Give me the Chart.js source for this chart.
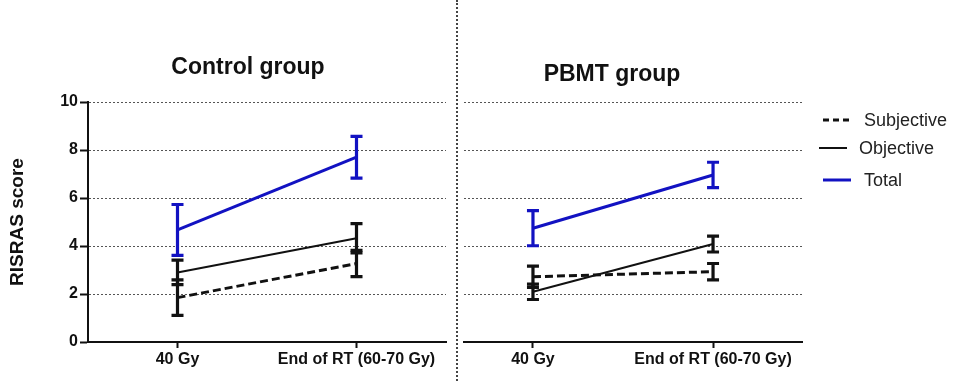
<!DOCTYPE html>
<html>
<head>
<meta charset="utf-8">
<script src="https://cdn.jsdelivr.net/npm/chart.js@4/dist/chart.umd.min.js"></script>
<style>
  html, body { margin: 0; padding: 0; background: #fff; }
  #wrap { position: relative; width: 958px; height: 381px; overflow: hidden; font-family: "Liberation Sans", Arial, sans-serif; }
  canvas { position: absolute; top: 0; }
  .title { position: absolute; font-weight: bold; font-size: 23px; line-height: 23px; color: #111; white-space: nowrap; transform: translateX(-50%); }
  #divider { position: absolute; left: 456px; top: 0; height: 381px; border-left: 2px dotted #444; }
</style>
</head>
<body>
<div id="wrap">
  <canvas id="control" width="456" height="381" style="left:0"></canvas>
  <canvas id="pbmt" width="500" height="381" style="left:458px"></canvas>
  <div id="divider"></div>
  <div class="title" style="left:248px; top:55px">Control group</div>
  <div class="title" style="left:612px; top:62px">PBMT group</div>
</div>
<script>
// Time points
const categories = ['40 Gy', 'End of RT (60-70 Gy)'];

// Control group: mean RISRAS scores and error bar half-lengths
const controlSubjective = [1.85, 3.27];
const controlSubjectiveErr = [0.74, 0.55];
const controlObjective = [2.90, 4.32];
const controlObjectiveErr = [0.51, 0.61];
const controlTotal = [4.67, 7.70];
const controlTotalErr = [1.06, 0.87];

// PBMT group
const pbmtSubjective = [2.72, 2.93];
const pbmtSubjectiveErr = [0.44, 0.34];
const pbmtObjective = [2.09, 4.08];
const pbmtObjectiveErr = [0.32, 0.33];
const pbmtTotal = [4.74, 6.96];
const pbmtTotalErr = [0.73, 0.53];

// Y axis ticks
const yTicks = [0, 2, 4, 6, 8, 10];

const BLUE = '#1212c2';
const INK = '#111';
const DASH = [8, 4];

Chart.defaults.font.family = '"Liberation Sans", Arial, sans-serif';
Chart.defaults.color = INK;

const toPoints = vals => vals.map((v, i) => ({ x: i, y: v }));

function makeDatasets(subj, subjErr, obj, objErr, tot, totErr) {
  return [
    { label: 'Subjective', data: toPoints(subj), errors: subjErr, borderColor: INK, borderWidth: 3, borderDash: DASH, pointRadius: 0, tension: 0 },
    { label: 'Objective', data: toPoints(obj), errors: objErr, borderColor: INK, borderWidth: 2, pointRadius: 0, tension: 0 },
    { label: 'Total', data: toPoints(tot), errors: totErr, borderColor: BLUE, borderWidth: 3, pointRadius: 0, tension: 0 }
  ];
}

// Vertical error bars with caps, drawn from each dataset's errors array
const errorBars = {
  id: 'errorBars',
  afterDatasetsDraw(chart) {
    const { ctx, scales: { x, y } } = chart;
    chart.data.datasets.forEach(ds => {
      ctx.save();
      ctx.strokeStyle = ds.borderColor;
      ctx.lineWidth = 3.2;
      ctx.setLineDash([]);
      ds.data.forEach((p, i) => {
        const e = ds.errors[i];
        const px = x.getPixelForValue(p.x);
        const top = y.getPixelForValue(p.y + e);
        const bot = y.getPixelForValue(p.y - e);
        ctx.beginPath();
        ctx.moveTo(px, top); ctx.lineTo(px, bot);
        ctx.moveTo(px - 6, top); ctx.lineTo(px + 6, top);
        ctx.moveTo(px - 6, bot); ctx.lineTo(px + 6, bot);
        ctx.stroke();
      });
      ctx.restore();
    });
  }
};

// Legend to the right of the PBMT panel
const sideLegend = {
  id: 'sideLegend',
  afterDraw(chart) {
    const { ctx } = chart;
    const rows = [
      { y: 120, x: 365, tx: 406 },
      { y: 148, x: 361, tx: 401 },
      { y: 180, x: 365, tx: 406 }
    ];
    chart.data.datasets.forEach((ds, i) => {
      const r = rows[i];
      ctx.save();
      ctx.strokeStyle = ds.borderColor;
      ctx.lineWidth = ds.borderWidth;
      ctx.setLineDash(ds.borderDash ? [6, 4] : []);
      ctx.beginPath();
      ctx.moveTo(r.x, r.y); ctx.lineTo(r.x + 28, r.y);
      ctx.stroke();
      ctx.setLineDash([]);
      ctx.fillStyle = '#222';
      ctx.font = '18px "Liberation Sans", Arial, sans-serif';
      ctx.textBaseline = 'middle';
      ctx.fillText(ds.label, r.tx, r.y + 1);
      ctx.restore();
    });
  }
};

function xScale(min, max) {
  return {
    type: 'linear', min, max,
    afterBuildTicks: s => { s.ticks = categories.map((_, i) => ({ value: i })); },
    afterFit: s => { s.height = 39; },
    border: { display: true, color: INK, width: 2 },
    grid: { drawOnChartArea: false, drawTicks: true, tickLength: 6, tickWidth: 2, tickColor: INK },
    ticks: { autoSkip: false, maxRotation: 0, padding: 2, font: { size: 16, weight: 'bold' }, color: INK, callback: v => categories[v] }
  };
}

function yScale(showAxis, width) {
  return {
    type: 'linear', min: 0, max: 10,
    afterBuildTicks: s => { s.ticks = yTicks.map(v => ({ value: v })); },
    afterFit: s => { s.width = width; },
    border: { display: showAxis, color: INK, width: 2, dash: [2, 2] },
    grid: {
      color: c => (c.tick && c.tick.value === 0) ? 'rgba(0,0,0,0)' : '#555',
      lineWidth: 1,
      drawTicks: showAxis, tickLength: 8, tickWidth: 2, tickColor: INK, tickBorderDash: []
    },
    ticks: { display: showAxis, padding: 2, font: { size: 16, weight: 'bold' }, color: INK },
    title: { display: showAxis, text: 'RISRAS score', font: { size: 19, weight: 'bold' }, color: INK, padding: { top: 6, bottom: 0 } }
  };
}

function baseOptions(padding, xs, ys) {
  return {
    responsive: false,
    animation: false,
    devicePixelRatio: 1,
    layout: { padding },
    plugins: { legend: { display: false }, tooltip: { enabled: false }, title: { display: false } },
    scales: { x: xs, y: ys }
  };
}

new Chart(document.getElementById('control'), {
  type: 'line',
  data: { datasets: makeDatasets(controlSubjective, controlSubjectiveErr, controlObjective, controlObjectiveErr, controlTotal, controlTotalErr) },
  options: baseOptions({ top: 102, right: 10, bottom: 0, left: 0 }, xScale(-0.5, 1.5), yScale(true, 88)),
  plugins: [errorBars]
});

new Chart(document.getElementById('pbmt'), {
  type: 'line',
  data: { datasets: makeDatasets(pbmtSubjective, pbmtSubjectiveErr, pbmtObjective, pbmtObjectiveErr, pbmtTotal, pbmtTotalErr) },
  options: baseOptions({ top: 102, right: 156, bottom: 0, left: 0 }, xScale(-0.383, 1.494), yScale(false, 6)),
  plugins: [errorBars, sideLegend]
});
</script>
</body>
</html>
